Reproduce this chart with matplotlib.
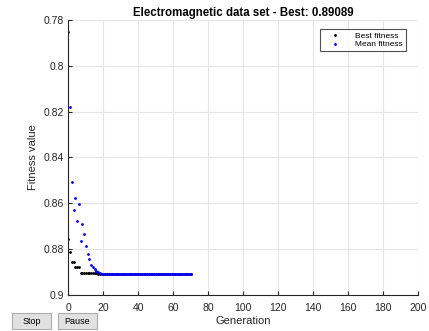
import matplotlib
matplotlib.use("Agg")
import matplotlib.pyplot as plt
from matplotlib.patches import Rectangle
import numpy as np

plt.rcParams['font.family'] = ['Liberation Sans', 'DejaVu Sans']

title = "Electromagnetic data set - Best: 0.89089"
best_value = 0.89089

# Best fitness per generation (gens 0..70)
best_early = [0.8756, 0.8812, 0.8856, 0.8856, 0.8878, 0.8878, 0.8878,
              0.8902, 0.8902, 0.8902, 0.8902, 0.8902, 0.8902, 0.8902, 0.8902,
              0.8902, 0.8902]
best_fitness = best_early + [best_value] * (71 - len(best_early))

# Mean fitness per generation (gens 0..70)
mean_early = [0.7851, 0.8179, 0.8506, 0.8627, 0.8576, 0.8675, 0.8605, 0.8764,
              0.8689, 0.8735, 0.8787, 0.8823, 0.8841, 0.8870, 0.8880, 0.8887,
              0.8896, 0.8900, 0.8905, 0.8907]
mean_fitness = mean_early + [best_value] * (71 - len(mean_early))
generations = list(range(len(mean_fitness)))

xticks = list(range(0, 201, 20))
yticks = [0.78, 0.8, 0.82, 0.84, 0.86, 0.88, 0.9]
yticklabels = ["0.78", "0.8", "0.82", "0.84", "0.86", "0.88", "0.9"]

W, H = 429, 331
fig = plt.figure(figsize=(W / 100, H / 100), dpi=100)
ax = fig.add_axes([68.3 / W, 1 - 295 / H, (418.3 - 68.3) / W, (295 - 20) / H])

ax.plot(generations, best_fitness, linestyle='none', marker='.', markersize=2.0,
        color='black', label='Best fitness')
ax.plot(generations, mean_fitness, linestyle='none', marker='.', markersize=2.0,
        color='blue', label='Mean fitness')

ax.set_xlim(0, 200)
ax.set_ylim(0.9, 0.78)
ax.set_xticks(xticks)
ax.set_yticks(yticks)
ax.set_yticklabels(yticklabels)
ax.grid(True, color='#e6e6e6', linewidth=0.8)
ax.set_axisbelow(True)
for s in ['top', 'right']:
    ax.spines[s].set_visible(False)
for s in ['left', 'bottom']:
    ax.spines[s].set_color('#262626')
    ax.spines[s].set_linewidth(0.8)
ax.tick_params(direction='in', length=3, width=0.8, colors='#262626',
               labelsize=7.5, labelcolor='#262626', pad=3)
ax.tick_params(axis='x', pad=6)

ax.set_title(title, fontsize=8.3, fontweight='bold', pad=3)
ax.set_xlabel("Generation", fontsize=8, labelpad=2, color='#262626')
ax.set_ylabel("Fitness value", fontsize=8, labelpad=4, color='#262626')

leg = ax.legend(loc='upper right', fontsize=6, frameon=True, fancybox=False,
                borderpad=0.35, handlelength=3.0, handletextpad=0.9,
                labelspacing=0.1, borderaxespad=0.0,
                bbox_to_anchor=(406 / W, 1 - 29 / H), bbox_transform=fig.transFigure,
                markerscale=1.0)
leg.get_frame().set_edgecolor('#262626')
leg.get_frame().set_linewidth(0.8)

# Stop / Pause buttons
for label, x0, x1 in [("Stop", 11.7, 51), ("Pause", 57.7, 96.7)]:
    rect = Rectangle((x0 / W, 1 - 329 / H), (x1 - x0) / W, 16 / H,
                     transform=fig.transFigure, facecolor='#e1e1e1',
                     edgecolor='#adadad', linewidth=0.8)
    fig.patches.append(rect)
    fig.text((x0 + x1) / 2 / W, 1 - 321 / H, label, ha='center', va='center',
             fontsize=6.5, color='#000000')

fig.savefig("out.png", dpi=100)
